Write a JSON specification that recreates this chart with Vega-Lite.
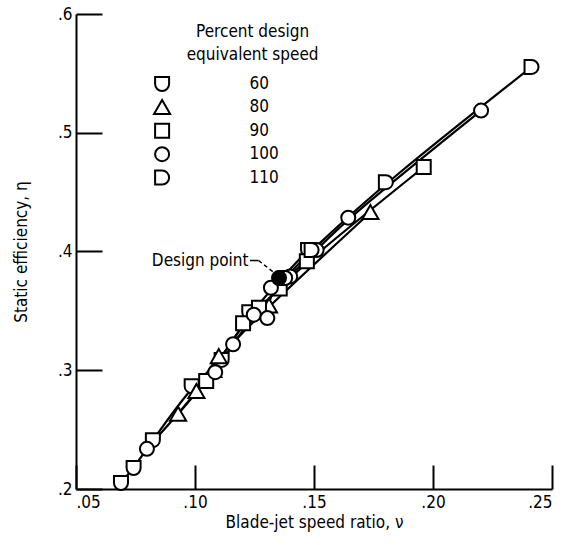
{
  "$schema": "https://vega.github.io/schema/vega-lite/v6.json",
  "width": 476,
  "height": 475,
  "autosize": {"type": "none"},
  "padding": {"left": 76, "top": 14, "right": 17, "bottom": 56},
  "background": "white",
  "config": {
    "view": {"stroke": null},
    "font": "Liberation Sans Narrow, DejaVu Sans Condensed, Roboto",
    "axis": {
      "grid": false,
      "domainColor": "black",
      "domainWidth": 2,
      "tickColor": "black",
      "tickWidth": 2,
      "labelColor": "black",
      "labelFontSize": 17,
      "titleColor": "black",
      "titleFontSize": 17,
      "titleFontWeight": "normal",
      "labelFont": "Liberation Sans Narrow, DejaVu Sans Condensed, Roboto",
      "titleFont": "Liberation Sans Narrow, DejaVu Sans Condensed, Roboto"
    },
    "legend": {
      "labelFont": "Liberation Sans Narrow, DejaVu Sans Condensed, Roboto"
    }
  },
  "datasets": {
    "points": [
      {"speed": "60", "v": 0.0689, "eta": 0.2050},
      {"speed": "60", "v": 0.0742, "eta": 0.2176},
      {"speed": "60", "v": 0.0823, "eta": 0.2411},
      {"speed": "60", "v": 0.0986, "eta": 0.2866},
      {"speed": "60", "v": 0.1112, "eta": 0.3087},
      {"speed": "60", "v": 0.1228, "eta": 0.3489},
      {"speed": "60", "v": 0.1475, "eta": 0.4012},
      {"speed": "80", "v": 0.0929, "eta": 0.2631},
      {"speed": "80", "v": 0.1006, "eta": 0.2822},
      {"speed": "80", "v": 0.1077, "eta": 0.2999},
      {"speed": "80", "v": 0.1100, "eta": 0.3116},
      {"speed": "80", "v": 0.1311, "eta": 0.3542},
      {"speed": "80", "v": 0.1737, "eta": 0.4329},
      {"speed": "90", "v": 0.1047, "eta": 0.2910},
      {"speed": "90", "v": 0.1202, "eta": 0.3395},
      {"speed": "90", "v": 0.1269, "eta": 0.3527},
      {"speed": "90", "v": 0.1356, "eta": 0.3689},
      {"speed": "90", "v": 0.1470, "eta": 0.3918},
      {"speed": "90", "v": 0.1961, "eta": 0.4711},
      {"speed": "100", "v": 0.0798, "eta": 0.2338},
      {"speed": "100", "v": 0.1085, "eta": 0.2984},
      {"speed": "100", "v": 0.1160, "eta": 0.3219},
      {"speed": "100", "v": 0.1247, "eta": 0.3468},
      {"speed": "100", "v": 0.1304, "eta": 0.3439},
      {"speed": "100", "v": 0.1319, "eta": 0.3695},
      {"speed": "100", "v": 0.1400, "eta": 0.3790},
      {"speed": "100", "v": 0.1511, "eta": 0.4012},
      {"speed": "100", "v": 0.1644, "eta": 0.4285},
      {"speed": "100", "v": 0.2202, "eta": 0.5187},
      {"speed": "110", "v": 0.1379, "eta": 0.3777},
      {"speed": "110", "v": 0.1490, "eta": 0.4012},
      {"speed": "110", "v": 0.1802, "eta": 0.4584},
      {"speed": "110", "v": 0.2414, "eta": 0.5554}
    ],
    "design": [{"v": 0.1353, "eta": 0.3777}]
  },
  "data": {"name": "points"},
  "layer": [
    {
      "mark": {"type": "line", "color": "black", "strokeWidth": 2.2, "interpolate": "basis"},
      "encoding": {
        "x": {"field": "v", "type": "quantitative", "scale": {"domain": [0.05, 0.25], "nice": false, "zero": false},
          "axis": {"values": [0.05, 0.1, 0.15, 0.2, 0.25], "labelExpr": "substring(format(datum.value, '.2f'), 1)", "tickSize": -24, "labelPadding": 29, "title": "Blade-jet speed ratio, ν", "titlePadding": 4}},
        "y": {"field": "eta", "type": "quantitative", "scale": {"domain": [0.2, 0.6], "nice": false, "zero": false},
          "axis": {"values": [0.2, 0.3, 0.4, 0.5, 0.6], "labelExpr": "substring(format(datum.value, '.1f'), 1)", "tickSize": -26, "labelPadding": 30, "title": "Static efficiency, η", "titlePadding": 27}},
        "detail": {"field": "speed", "type": "nominal"}
      }
    },
    {
      "mark": {"type": "point", "filled": false, "color": "black", "fill": "white", "strokeWidth": 2, "size": 196, "opacity": 1},
      "encoding": {
        "x": {"field": "v", "type": "quantitative"},
        "y": {"field": "eta", "type": "quantitative"},
        "shape": {
          "field": "speed", "type": "nominal",
          "scale": {
            "domain": ["60", "80", "90", "100", "110"],
            "range": ["M-1,-1L1,-1L1,0C1,0.55,0.55,1,0,1C-0.55,1,-1,0.55,-1,0Z", "M0,-1.05L1.15,0.95L-1.15,0.95Z", "square", "circle", "M-1,-1L0,-1C0.55,-1,1,-0.55,1,0C1,0.55,0.55,1,0,1L-1,1Z"]
          },
          "legend": {
            "orient": "none",
            "legendX": 77.6,
            "legendY": 61.5,
            "padding": 0,
            "title": null,
            "labelFontSize": 17,
            "labelColor": "black",
            "labelAlign": "left",
            "labelOffset": 79,
            "symbolSize": 196,
            "symbolStrokeWidth": 2,
            "rowPadding": 0.4
          }
        }
      }
    },
    {
      "data": {"name": "design"},
      "mark": {"type": "point", "shape": "circle", "filled": true, "fill": "black", "stroke": "black", "strokeWidth": 2, "size": 196, "opacity": 1},
      "encoding": {
        "x": {"field": "v", "type": "quantitative"},
        "y": {"field": "eta", "type": "quantitative"}
      }
    },
    {
      "data": {"values": [{}]},
      "mark": {"type": "text", "align": "center", "baseline": "top", "fontSize": 17, "lineHeight": 23, "color": "black"},
      "encoding": {
        "x": {"datum": 0.1242, "type": "quantitative"},
        "y": {"datum": 0.5920, "type": "quantitative"},
        "text": {"value": ["Percent design", "equivalent speed"]}
      }
    },
    {
      "data": {"values": [{}]},
      "mark": {"type": "text", "align": "right", "baseline": "middle", "fontSize": 17, "color": "black"},
      "encoding": {
        "x": {"datum": 0.1225, "type": "quantitative"},
        "y": {"datum": 0.3924, "type": "quantitative"},
        "text": {"value": "Design point"}
      }
    },
    {
      "data": {"values": [{}]},
      "mark": {"type": "rule", "color": "black", "strokeWidth": 1.5},
      "encoding": {
        "x": {"datum": 0.1231, "type": "quantitative"},
        "y": {"datum": 0.3924, "type": "quantitative"},
        "x2": {"datum": 0.1267},
        "y2": {"datum": 0.3924}
      }
    },
    {
      "data": {"values": [{}]},
      "mark": {"type": "rule", "color": "black", "strokeWidth": 1.5, "strokeDash": [4, 3]},
      "encoding": {
        "x": {"datum": 0.1267, "type": "quantitative"},
        "y": {"datum": 0.3924, "type": "quantitative"},
        "x2": {"datum": 0.1342},
        "y2": {"datum": 0.3807}
      }
    }
  ]
}
